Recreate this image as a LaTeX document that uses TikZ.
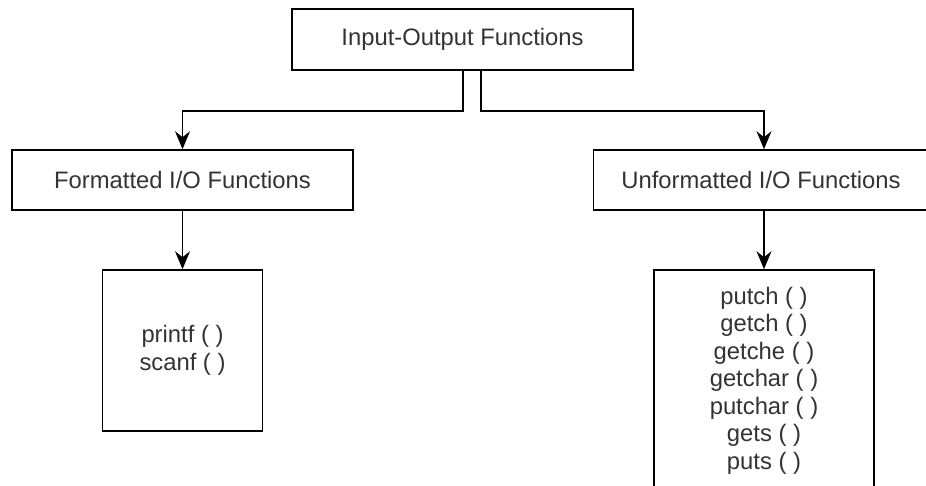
\documentclass[tikz,border=0pt]{standalone}
\usepackage{fontspec}
\setmainfont{Liberation Sans}
\usetikzlibrary{arrows.meta}
\definecolor{txt}{HTML}{333333}
\tikzset{
  box/.style={draw=black, line width=1.6pt, fill=white, rectangle, inner sep=0pt,
              text=txt, font=\fontsize{23.8}{27.5}\selectfont, align=center},
  arr/.style={draw=black, line width=1.6pt,
              -{Stealth[length=18pt, width=15pt, inset=6pt]}}
}
\begin{document}
\begin{tikzpicture}[x=1pt, y=-1pt]
\useasboundingbox (0,0) rectangle (926,486);
\fill[white] (0,0) rectangle (926,486);
\clip (0,0) rectangle (926,486);
\node[box, minimum width=341pt, minimum height=61pt] (top) at (462.5,39.5) {Input-Output Functions};
\node[box, minimum width=341pt, minimum height=60pt] (fmt) at (182.5,180) {Formatted I/O Functions};
\node[box, minimum width=341pt, minimum height=60pt] (unf) at (764,180) {\hspace*{-6pt}Unformatted I/O Functions};
\node[box, minimum width=160pt, minimum height=161pt] (pf) at (182.5,350.5) {printf ( )\\scanf ( )};
\node[box, minimum width=220pt, minimum height=221pt] (pl) at (764,380.5)
  {putch ( )\\getch ( )\\getche ( )\\getchar ( )\\putchar ( )\\gets ( )\\puts ( )};
\draw[arr] ([xshift=0.5pt]top.south) -- ++(0,40) -| (fmt.north);
\draw[arr] ([xshift=18.5pt]top.south) -- ++(0,40) -| (unf.north);
\draw[arr] (fmt.south) -- (pf.north);
\draw[arr] (unf.south) -- (pl.north);
\end{tikzpicture}
\end{document}
